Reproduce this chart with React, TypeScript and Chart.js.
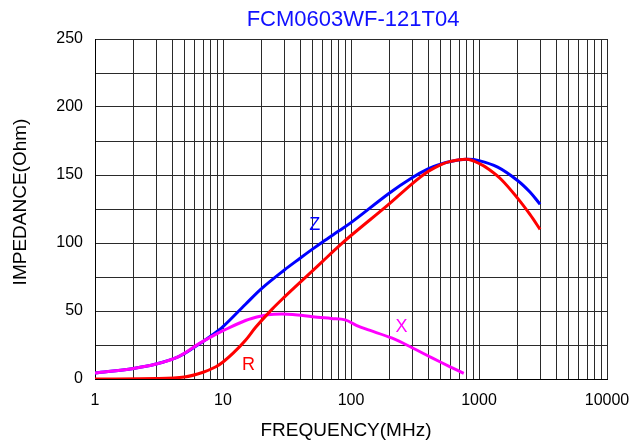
import React, { useEffect, useRef } from 'react';
import { Chart, registerables } from 'chart.js';

Chart.register(...registerables);

const TITLE = 'FCM0603WF-121T04';
const X_TITLE = 'FREQUENCY(MHz)';
const Y_TITLE = 'IMPEDANCE(Ohm)';

const X_TICK_LABELS = [1, 10, 100, 1000, 10000];
const X_GRID_MULTIPLES = [1, 2, 3, 4, 5, 6, 7, 8, 9];
const Y_MIN = 0;
const Y_MAX = 250;
const Y_GRID_STEP = 25;
const Y_LABEL_STEP = 50;

const Z_FREQ = [1, 2, 3, 4.5, 6, 8, 10, 15, 20, 30, 40, 50, 60, 80, 100, 200, 300, 400, 500, 600, 800, 1000, 1400, 2000, 2500, 3000];
const Z_VALUES = [4.4, 7.8, 11, 16.5, 23.5, 31.5, 38.5, 55, 66.5, 80, 88.8, 95.5, 100.8, 108.8, 115, 136.8, 148, 154.5, 158, 160, 161.5, 160.6, 155.8, 146, 137.5, 128.5];

const R_FREQ = [1, 3, 5, 7, 8.8, 10, 12, 15, 18, 24, 30, 40, 50, 60, 80, 100, 200, 300, 400, 500, 600, 800, 1000, 1200, 1500, 2000, 2500, 3000];
const R_VALUES = [0, 0.3, 1.5, 5, 9, 12.5, 19, 28.5, 38, 51, 60, 71, 79.5, 86.5, 97.5, 105.5, 129, 143.5, 152.5, 157.5, 160, 161.5, 158.5, 154, 146.5, 133, 121, 110];

const X_FREQ = [1, 2, 3, 4.5, 6.5, 8, 10, 15, 20, 25, 35, 50, 70, 90, 110, 130, 210, 300, 430, 600, 760];
const X_VALUES = [4.4, 7.8, 11, 16.5, 26, 30.8, 35.5, 43, 46.3, 47.6, 47.5, 45.8, 44.5, 43.5, 39.5, 36.8, 30, 23, 15.5, 8.8, 4.2];

const CURVE_LABEL_TEXT = ['Z', 'X', 'R'];
const CURVE_LABEL_FREQ = [52, 248, 15.8];
const CURVE_LABEL_VALUE = [113, 38.2, 10.3];
const CURVE_LABEL_COLOR = ['#0000ff', '#ff00ff', '#ff0000'];

const FONT = "'Liberation Sans', Arial, sans-serif";

const toPoints = (xs: number[], ys: number[]) => xs.map((x, i) => ({ x, y: ys[i] }));

const gridTicks: number[] = [];
X_TICK_LABELS.forEach((dec, i) => {
  if (i < X_TICK_LABELS.length - 1) {
    X_GRID_MULTIPLES.forEach((m) => gridTicks.push(dec * m));
  } else {
    gridTicks.push(dec);
  }
});

const textPlugin = {
  id: 'textPlugin',
  afterDraw(chart: any) {
    const { ctx, chartArea, scales } = chart;
    ctx.save();
    ctx.textAlign = 'center';
    ctx.textBaseline = 'middle';
    ctx.fillStyle = '#1010ff';
    ctx.font = `22px ${FONT}`;
    ctx.fillText(TITLE, (chartArea.left + chartArea.right) / 2 + 2, 20);
    ctx.fillStyle = '#000';
    ctx.font = `19px ${FONT}`;
    ctx.fillText(X_TITLE, (chartArea.left + chartArea.right) / 2 - 5, 431);
    ctx.save();
    ctx.translate(21, (chartArea.top + chartArea.bottom) / 2 - 7);
    ctx.rotate(-Math.PI / 2);
    ctx.fillText(Y_TITLE, 0, 0);
    ctx.restore();
    ctx.font = `18px ${FONT}`;
    CURVE_LABEL_TEXT.forEach((t, i) => {
      ctx.fillStyle = CURVE_LABEL_COLOR[i];
      ctx.fillText(t, scales.x.getPixelForValue(CURVE_LABEL_FREQ[i]), scales.y.getPixelForValue(CURVE_LABEL_VALUE[i]));
    });
    ctx.restore();
  },
};

const lineStyle = {
  borderWidth: 3,
  pointRadius: 0,
  tension: 0.35,
  fill: false,
};

export default function App() {
  const ref = useRef<HTMLCanvasElement | null>(null);
  useEffect(() => {
    if (!ref.current) return;
    const chart = new Chart(ref.current, {
      type: 'line',
      data: {
        datasets: [
          { label: 'R', data: toPoints(R_FREQ, R_VALUES), borderColor: '#ff0000', ...lineStyle },
          { label: 'X', data: toPoints(X_FREQ, X_VALUES), borderColor: '#ff00ff', ...lineStyle },
          { label: 'Z', data: toPoints(Z_FREQ, Z_VALUES), borderColor: '#0000ff', ...lineStyle },
        ],
      },
      options: {
        responsive: false,
        animation: false,
        devicePixelRatio: 1,
        layout: { padding: { left: 0, top: 39, right: 24, bottom: 0 } },
        plugins: {
          legend: { display: false },
          tooltip: { enabled: false },
          title: { display: false },
        },
        scales: {
          x: {
            type: 'logarithmic',
            min: 1,
            max: 10000,
            afterBuildTicks: (scale: any) => {
              scale.ticks = gridTicks.map((v) => ({ value: v, major: X_TICK_LABELS.includes(v) }));
            },
            afterFit: (scale: any) => {
              scale.height = 62;
              scale.paddingRight = 0;
              scale.paddingLeft = 0;
            },
            grid: { color: '#2a2a2a', lineWidth: 1, drawTicks: false },
            border: { display: true, color: '#000', width: 1 },
            ticks: {
              autoSkip: false,
              maxRotation: 0,
              padding: 12,
              color: '#000',
              font: { family: FONT, size: 16 },
              callback: (v: any) => (X_TICK_LABELS.includes(Number(v)) ? String(v) : ''),
            },
          },
          y: {
            type: 'linear',
            min: Y_MIN,
            max: Y_MAX,
            afterFit: (scale: any) => {
              scale.width = 95;
              scale.paddingTop = 0;
              scale.paddingBottom = 0;
            },
            grid: { color: '#2a2a2a', lineWidth: 1, drawTicks: false },
            border: { display: true, color: '#000', width: 1 },
            ticks: {
              stepSize: Y_GRID_STEP,
              autoSkip: false,
              padding: 12,
              color: '#000',
              font: { family: FONT, size: 16 },
              callback: (v: any) => (Number(v) % Y_LABEL_STEP === 0 ? String(v) : ''),
            },
          },
        },
      },
      plugins: [textPlugin],
    } as any);
    return () => chart.destroy();
  }, []);
  return (
    <div style={{ position: 'fixed', left: 0, top: 0, width: 631, height: 441, background: '#fff' }}>
      <canvas ref={ref} width={631} height={441} style={{ display: 'block' }} />
    </div>
  );
}
